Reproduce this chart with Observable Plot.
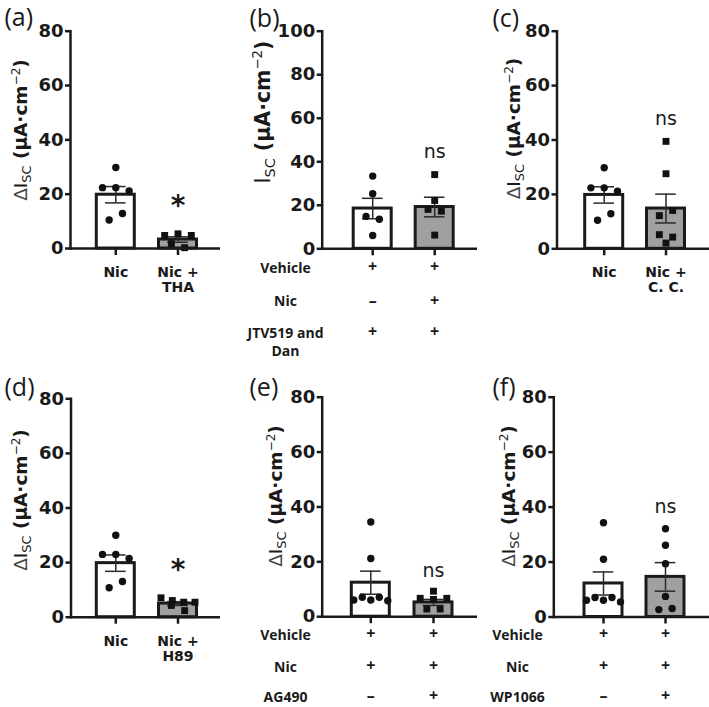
<!DOCTYPE html>
<html><head><meta charset="utf-8">
<script src="https://cdn.jsdelivr.net/npm/d3@7"></script>
<script src="https://cdn.jsdelivr.net/npm/@observablehq/plot@0.6"></script>
<style>
body{margin:0;background:#fff;}
#fig{position:relative;width:709px;height:707px;overflow:hidden;background:#fff;}
#fig svg{position:absolute;overflow:visible;}
</style></head><body><div id="fig"></div>
<script>
// ---------------- data ----------------
const panelTags = ["(a)", "(b)", "(c)", "(d)", "(e)", "(f)"];

const xLabelsA = ["Nic", "Nic +\nTHA"];
const xLabelsC = ["Nic", "Nic +\nC. C."];
const xLabelsD = ["Nic", "Nic +\nH89"];

const tableRowsB = ["Vehicle", "Nic", "JTV519 and\nDan"];
const tableSignsB = [["+", "+"], ["–", "+"], ["+", "+"]];
const tableRowsE = ["Vehicle", "Nic", "AG490"];
const tableSignsE = [["+", "+"], ["+", "+"], ["–", "+"]];
const tableRowsF = ["Vehicle", "Nic", "WP1066"];
const tableSignsF = [["+", "+"], ["+", "+"], ["–", "+"]];

const yTicks80 = [0, 20, 40, 60, 80];
const yTicks100 = [0, 20, 40, 60, 80, 100];

// individual points
const nicA = [29.8, 22.4, 22.4, 21.2, 10.5, 12.9];
const thaA = [4.8, 5.4, 4.8, 1.8, 0.3];
const vehB = [33.4, 25.3, 14.9, 13.6, 6.1];
const nicB = [34.1, 22.2, 18.1, 17.3, 6.3];
const nicC = [29.8, 22.4, 22.4, 21.2, 10.5, 12.9];
const ccC  = [39.5, 27.6, 12.2, 14.1, 5.2, 4.3, 2.1];
const nicD = [30.0, 23.0, 23.0, 21.5, 10.8, 13.1];
const h89D = [7.1, 6.1, 5.5, 5.5, 4.3, 2.4];
const nicE = [34.5, 21.2, 6.1, 7.1, 6.1, 7.1, 5.8];
const agE  = [9.3, 6.7, 6.3, 6.7, 2.8, 2.8];
const nicF = [34.3, 21.0, 6.1, 7.1, 6.1, 7.1, 5.5];
const wpF  = [32.1, 26.1, 19.4, 7.5, 2.7, 3.1];

// bar means and SEM
const meansA = [19.8, 3.3],  semsA = [3.0, 1.0];
const meansB = [18.5, 19.2], semsB = [4.7, 4.5];
const meansC = [19.8, 14.8], semsC = [3.0, 5.3];
const meansD = [19.8, 5.0],  semsD = [3.0, 0.7];
const meansE = [12.4, 5.2],  semsE = [4.2, 1.1];
const meansF = [12.2, 14.6], semsF = [4.2, 5.2];

// significance annotations over the second bar
const annotText = ["*", "ns", "ns", "*", "ns", "ns"];
const annotY = [18.0, 44.5, 47.9, 19.6, 16.8, 40.0];

// ---------------- layout (pixel geometry of each panel) ----------------
const layout = [
  {left:0,   top:0,   w:235, h:300, axisX:70,    fTop:30.7,  fBottom:248,   fRight:220, c1:115.3, c2:177.5, tagX:4,   tagY:17.5, labX:26.7,  labY:130,   labFont:18.5, labDelta:true},
  {left:235, top:0,   w:242, h:360, axisX:321.7, fTop:30.7,  fBottom:248.3, fRight:477, c1:372.2, c2:434.2, tagX:249, tagY:18,   labX:270,   labY:112,   labFont:20.5, labDelta:false, rowCX:285, rowOffs:[18.4, 51.7, 83.4]},
  {left:477, top:0,   w:232, h:300, axisX:556.5, fTop:30.7,  fBottom:248.3, fRight:709, c1:603.7, c2:665.5, tagX:492, tagY:18,   labX:520,   labY:128.5, labFont:18.5, labDelta:true},
  {left:0,   top:360, w:235, h:347, axisX:70.5,  fTop:398.3, fBottom:616.7, fRight:220, c1:115.3, c2:177.5, tagX:4,   tagY:387,  labX:26.7,  labY:500,   labFont:18.5, labDelta:true},
  {left:235, top:360, w:242, h:347, axisX:321.7, fTop:396.7, fBottom:616.2, fRight:477, c1:370.3, c2:433,   tagX:249, tagY:387,  labX:281.7, labY:496,   labFont:18.5, labDelta:true, rowCX:285, rowOffs:[17.1, 49.5, 79.5]},
  {left:477, top:360, w:232, h:347, axisX:553.3, fTop:396.7, fBottom:616.5, fRight:709, c1:603,   c2:665,   tagX:492, tagY:387,  labX:515,   labY:496,   labFont:18.5, labDelta:true, rowCX:517, rowOffs:[16.8, 49.3, 79.2]}
];

const panels = [
  {points:[nicA, thaA], means:meansA, sems:semsA, ymax:80,  yTicks:yTicks80,  xLabels:xLabelsA, symbols:["circle","square"]},
  {points:[vehB, nicB], means:meansB, sems:semsB, ymax:100, yTicks:yTicks100, rows:tableRowsB, signs:tableSignsB, symbols:["circle","square"]},
  {points:[nicC, ccC],  means:meansC, sems:semsC, ymax:80,  yTicks:yTicks80,  xLabels:xLabelsC, symbols:["circle","square"]},
  {points:[nicD, h89D], means:meansD, sems:semsD, ymax:80,  yTicks:yTicks80,  xLabels:xLabelsD, symbols:["circle","square"]},
  {points:[nicE, agE],  means:meansE, sems:semsE, ymax:80,  yTicks:yTicks80,  rows:tableRowsE, signs:tableSignsE, symbols:["circle","square"]},
  {points:[nicF, wpF],  means:meansF, sems:semsF, ymax:80,  yTicks:yTicks80,  rows:tableRowsF, signs:tableSignsF, symbols:["circle","circle"]}
];

const INK = "#1a1a1a";
const GRAY = "#a0a0a0";

// horizontal spreading of overlapping points (like a scatter-dot plot)
function swarmOffsets(values, pxPerUnit) {
  const order = values.map((v, i) => i).sort((a, b) => values[b] - values[a] || a - b);
  const off = new Array(values.length).fill(0);
  let i = 0;
  while (i < order.length) {
    let j = i + 1;
    while (j < order.length && (values[order[i]] - values[order[j]]) * pxPerUnit < 7) j++;
    const cluster = order.slice(i, j).sort((a, b) => a - b);
    const n = cluster.length;
    const sp = n <= 3 ? 13.3 : Math.min(13.3, 34 / (n - 1));
    cluster.forEach((idx, k) => off[idx] = (k - (n - 1) / 2) * sp);
    i = j;
  }
  return off;
}

const fig = document.getElementById("fig");

panels.forEach((d, p) => {
  const L = layout[p];
  const step = L.c2 - L.c1;
  const ppu = (L.fBottom - L.fTop) / d.ymax;
  const bars = d.means.map((m, i) => ({i, m, s: d.sems[i]}));
  const pts = [];
  d.points.forEach((vals, g) => {
    const off = swarmOffsets(vals, ppu);
    vals.forEach((v, k) => pts.push({g, v, x: g + off[k] / step}));
  });
  const halfBar = 19 / step, capHalf = 10.3 / step;

  const marks = [
    Plot.rect(bars, {filter: b => b.i === 0, x1: b => b.i - halfBar, x2: b => b.i + halfBar, y1: 0, y2: "m", fill: "#fff", stroke: INK, strokeWidth: 3}),
    Plot.rect(bars, {filter: b => b.i === 1, x1: b => b.i - halfBar, x2: b => b.i + halfBar, y1: 0, y2: "m", fill: GRAY, stroke: INK, strokeWidth: 3}),
    Plot.ruleX(bars, {x: "i", y1: b => b.m - b.s, y2: b => b.m + b.s, stroke: "#2a2a2a", strokeWidth: 1.5}),
    Plot.ruleY(bars, {y: b => b.m + b.s, x1: b => b.i - capHalf, x2: b => b.i + capHalf, stroke: "#2a2a2a", strokeWidth: 1.5}),
    Plot.ruleY(bars, {y: b => b.m - b.s, x1: b => b.i - capHalf, x2: b => b.i + capHalf, stroke: "#2a2a2a", strokeWidth: 1.5}),
    Plot.dot(pts, {filter: q => q.g === 0, x: "x", y: "v", symbol: d.symbols[0], r: d.symbols[0] === "square" ? 3.9 : 3.7, fill: "#111", stroke: "none"}),
    Plot.dot(pts, {filter: q => q.g === 1, x: "x", y: "v", symbol: d.symbols[1], r: d.symbols[1] === "square" ? 3.9 : 3.7, fill: "#111", stroke: "none"}),
    Plot.ruleY([0], {stroke: INK, strokeWidth: 2.5}),
    Plot.frame({anchor: "left", stroke: INK, strokeWidth: 2.5}),
    Plot.axisY({ticks: d.yTicks, tickSize: 5, tickPadding: 2, strokeWidth: 2.5, fontSize: 18, fontWeight: "bold", label: null, color: INK}),
    Plot.axisX({ticks: [0, 1], tickSize: 7, tickPadding: 11, strokeWidth: 2.5, label: null, color: INK,
      tickFormat: d.xLabels ? (i => d.xLabels[i]) : (() => ""), fontSize: 14, fontWeight: "bold", lineHeight: 1.07}),
    Plot.text([annotText[p]], {x: 1, y: annotY[p], text: t => t, lineAnchor: "middle",
      fontSize: annotText[p] === "*" ? 28 : 19, fontWeight: annotText[p] === "*" ? "bold" : "normal",
      dy: annotText[p] === "*" ? 6 : 0, fill: INK}),
    Plot.text([panelTags[p]], {frameAnchor: "top-left", text: t => t, textAnchor: "start", lineAnchor: "middle",
      dx: L.tagX - L.axisX, dy: L.tagY - L.fTop, fontSize: 25, fontFamily: "Open Sans", fill: INK})
  ];

  if (d.rows) {
    const rowGap = 18.3;
    d.rows.forEach((row, r) => {
      const nLines = row.split("\n").length;
      marks.push(Plot.text([row], {frameAnchor: "bottom-left", text: t => t, textAnchor: "middle", lineAnchor: "middle",
        dx: L.rowCX - L.axisX, dy: L.rowOffs[r] + (nLines - 1) * rowGap / 2, lineHeight: rowGap / 14,
        fontFamily: "Open Sans", fontWeight: "bold", fontSize: 14, fill: INK}));
      marks.push(Plot.text(d.signs[r].map((s, i) => ({s, i})), {x: "i", frameAnchor: "bottom", text: "s", lineAnchor: "middle",
        dy: L.rowOffs[r], fontFamily: "Open Sans", fontWeight: "bold", fontSize: 16, fill: INK}));
    });
  }

  const svg = Plot.plot({
    width: L.w, height: L.h,
    marginLeft: L.axisX - L.left, marginRight: L.left + L.w - L.fRight,
    marginTop: L.fTop - L.top, marginBottom: L.top + L.h - L.fBottom,
    x: {type: "linear", domain: [0, 1], range: [L.c1 - L.left, L.c2 - L.left]},
    y: {domain: [0, d.ymax]},
    style: {fontFamily: "DejaVu Sans", color: INK, background: "transparent", overflow: "visible"},
    marks
  });
  svg.style.left = L.left + "px";
  svg.style.top = L.top + "px";

  // rotated y-axis title with subscript / superscript
  const fs = L.labFont;
  const t = d3.select(svg).append("text")
    .attr("transform", `translate(${L.labX - L.left},${L.labY - L.top}) rotate(-90)`)
    .attr("text-anchor", "middle")
    .attr("font-family", "DejaVu Sans")
    .attr("font-size", fs)
    .attr("fill", INK);
  if (L.labDelta) t.append("tspan").attr("fill", "#444").text("Δ");
  t.append("tspan").text("I");
  t.append("tspan").attr("font-size", fs * 0.7).attr("dy", fs * 0.22).text("SC");
  t.append("tspan").attr("dy", -fs * 0.22).attr("font-weight", "bold").text(" (μA·cm");
  t.append("tspan").attr("font-size", fs * 0.65).attr("dy", -fs * 0.38).text("−2");
  t.append("tspan").attr("dy", fs * 0.38).attr("font-weight", "bold").text(")");

  fig.appendChild(svg);
});
</script>
</body></html>
